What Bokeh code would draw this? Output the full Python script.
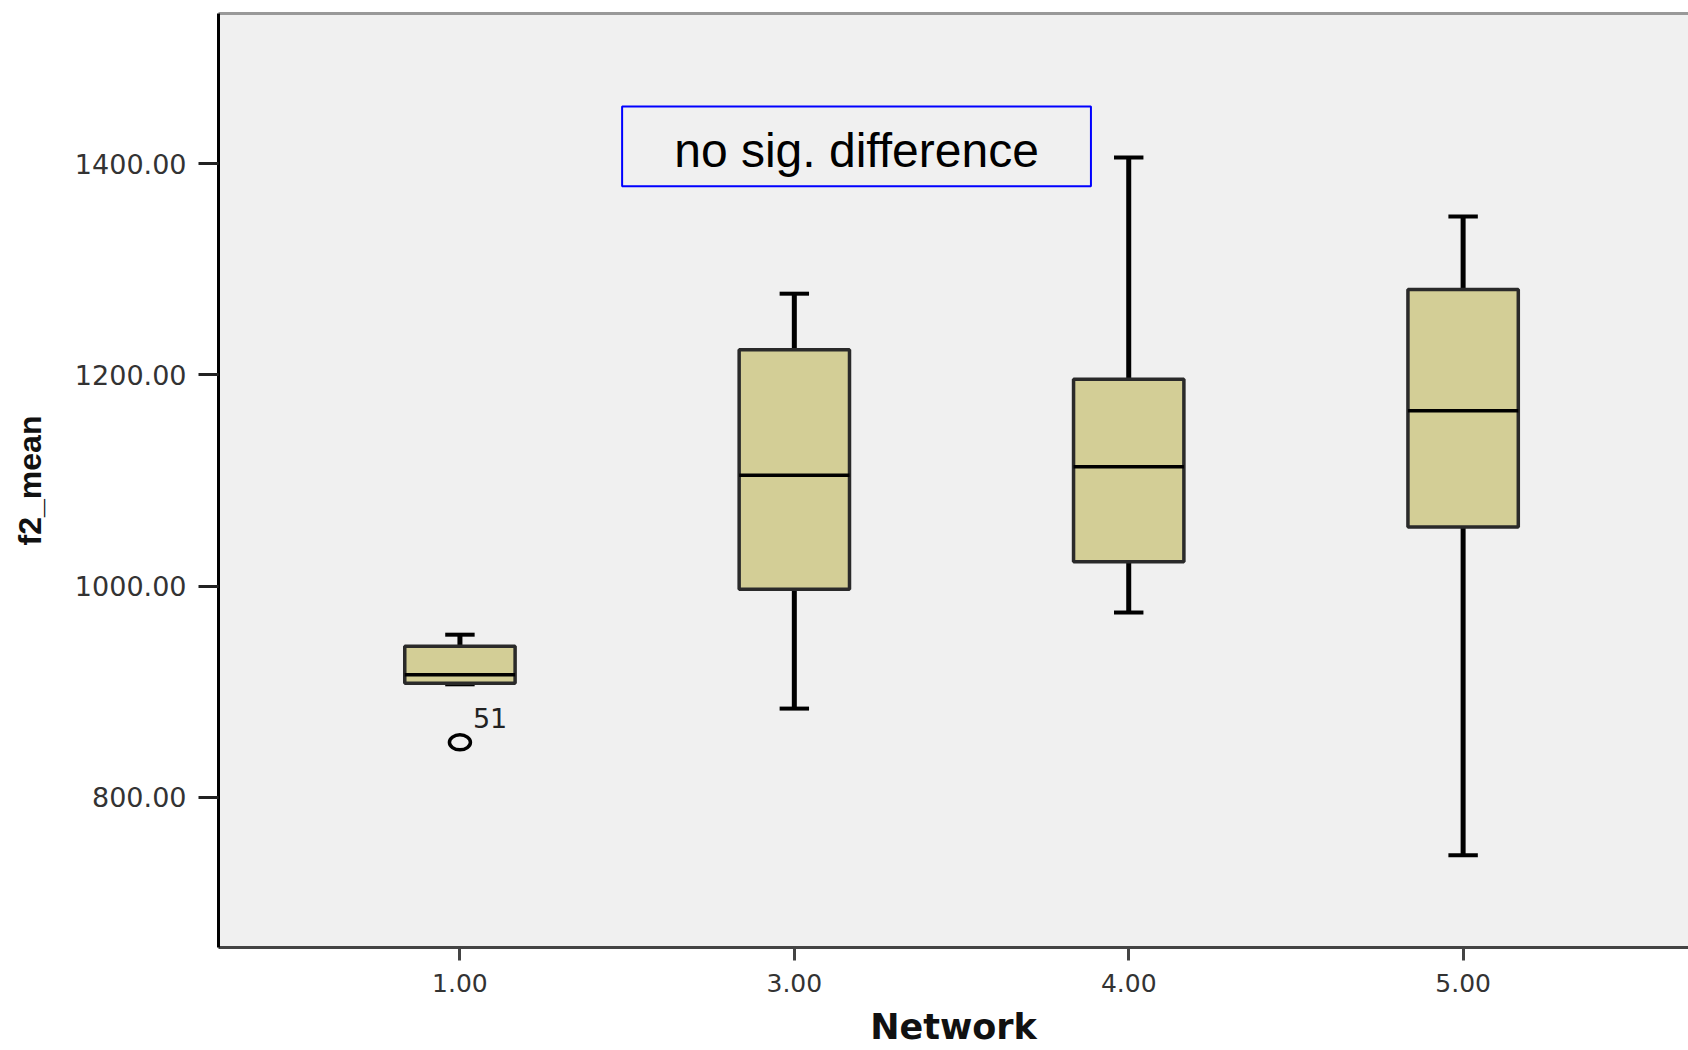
from bokeh.plotting import figure
from bokeh.models import FixedTicker, PrintfTickFormatter, Range1d, LinearAxis
from bokeh.core.properties import value
from bokeh.embed import file_html
from bokeh.resources import INLINE

# ---- data (SPSS boxplot of f2_mean by Network) ----
network = ["1.00", "3.00", "4.00", "5.00"]
lower = [907, 884, 975, 745]
q1 = [908, 997, 1023, 1056]
median = [916, 1105, 1113, 1166]
q3 = [943, 1224, 1196, 1281]
upper = [954, 1277, 1406, 1350]
outlier_group = [0]
outlier_value = [852]
outlier_label = ["51"]
y_ticks = [800, 1000, 1200, 1400]

pos = list(range(len(network)))
box_w = 0.33
cap_w = 0.088

p = figure(width=1688, height=1050, output_backend="svg", toolbar_location=None,
           x_range=Range1d(-0.722, 3.674), y_range=Range1d(657.7, 1542.4),
           min_border_left=218, min_border_right=0, min_border_top=13, min_border_bottom=103)
p.background_fill_color = "#f0f0f0"
p.border_fill_color = "white"
p.outline_line_color = None
p.grid.visible = False

# whiskers
p.segment(x0=pos, y0=lower, x1=pos, y1=upper, line_color="black", line_width=5)
# caps
p.segment(x0=[x - cap_w / 2 for x in pos], y0=upper, x1=[x + cap_w / 2 for x in pos], y1=upper,
          line_color="black", line_width=4)
p.segment(x0=[x - cap_w / 2 for x in pos], y0=lower, x1=[x + cap_w / 2 for x in pos], y1=lower,
          line_color="black", line_width=4)
# boxes
p.vbar(x=pos, width=box_w, bottom=q1, top=q3, fill_color="#d3ce96",
       line_color="#2a2a2a", line_width=3.5)
# medians
p.segment(x0=[x - box_w / 2 for x in pos], y0=median, x1=[x + box_w / 2 for x in pos], y1=median,
          line_color="black", line_width=3.5)
# outlier
p.ellipse(x=outlier_group, y=outlier_value, width=21, height=15,
          width_units="screen", height_units="screen",
          fill_color=None, line_color="black", line_width=3.5)
p.text(x=outlier_group, y=outlier_value, text=outlier_label, x_offset=13, y_offset=-24,
       text_font=value("DejaVu Sans"), text_font_size="27px", text_color="#222222",
       text_baseline="alphabetic", text_align="left")

# annotation box
p.quad(left=[0.485], right=[1.887], bottom=[1378.8], top=[1454.3],
       fill_color=None, line_color="#0000ff", line_width=2)
p.text(x=[1.186], y=[1413], text=["no sig. difference"],
       text_font=value("Liberation Sans"), text_font_size="48px", text_color="black",
       text_align="center", text_baseline="middle")

# axes
xa = p.xaxis[0]
xa.ticker = FixedTicker(ticks=pos)
xa.major_label_overrides = {i: lab for i, lab in zip(pos, network)}
xa.axis_label = "Network"
xa.axis_label_text_font = "DejaVu Sans"
xa.axis_label_text_font_style = "bold"
xa.axis_label_text_font_size = "35px"
xa.axis_label_text_color = "#111111"
xa.axis_label_standoff = 12
xa.major_label_text_font = "DejaVu Sans"
xa.major_label_text_font_size = "25px"
xa.major_label_text_color = "#333333"
xa.major_label_standoff = 13
xa.axis_line_color = "#444444"
xa.axis_line_width = 3
xa.major_tick_line_color = "#444444"
xa.major_tick_line_width = 3
xa.major_tick_out = 13
xa.major_tick_in = 0
xa.minor_tick_line_color = None

ya = p.yaxis[0]
ya.ticker = FixedTicker(ticks=y_ticks)
ya.formatter = PrintfTickFormatter(format="%.2f")
ya.axis_label = "f2_mean"
ya.axis_label_text_font = "Liberation Sans"
ya.axis_label_text_font_style = "bold"
ya.axis_label_text_font_size = "32px"
ya.axis_label_text_color = "#111111"
ya.axis_label_standoff = 24
ya.major_label_text_font = "DejaVu Sans"
ya.major_label_text_font_size = "27px"
ya.major_label_text_color = "#333333"
ya.major_label_standoff = 12
ya.axis_line_color = "black"
ya.axis_line_width = 3
ya.major_tick_line_color = "#222222"
ya.major_tick_line_width = 3
ya.major_tick_out = 20
ya.major_tick_in = 0
ya.minor_tick_line_color = None

# top border of the frame
top = LinearAxis(ticker=FixedTicker(ticks=[]), axis_line_color="#999999", axis_line_width=3,
                 major_tick_line_color=None, minor_tick_line_color=None,
                 major_label_text_font_size="0px", major_label_standoff=0)
p.add_layout(top, "above")

open("out.html", "w").write(file_html(p, INLINE))
